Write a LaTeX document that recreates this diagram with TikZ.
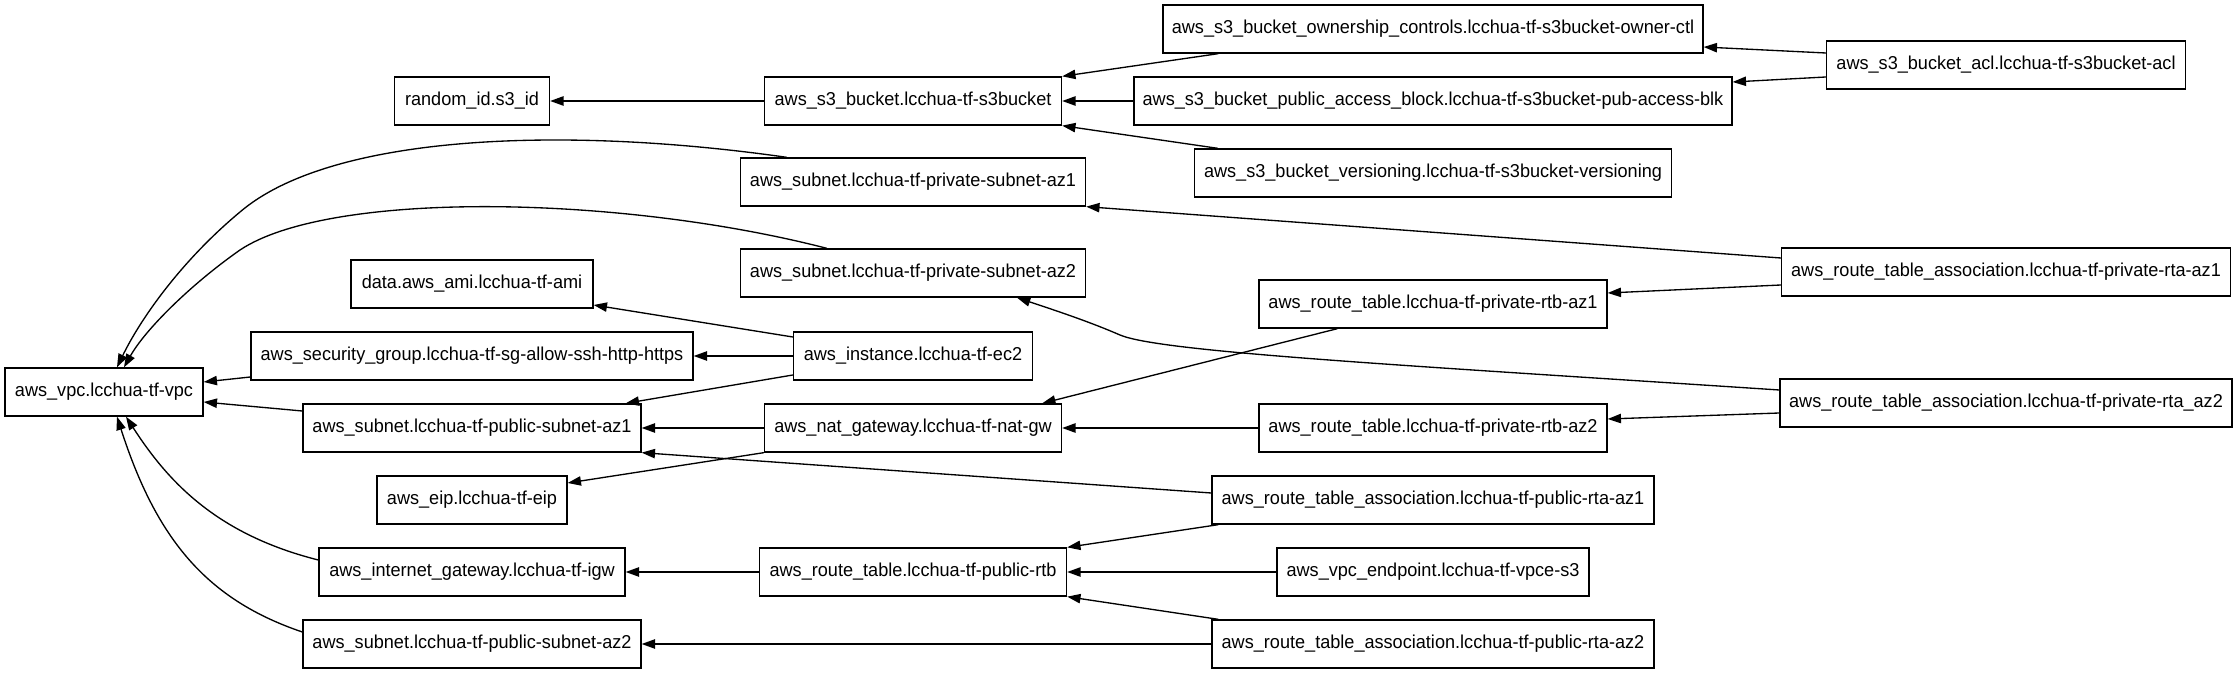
\documentclass[tikz,border=0pt]{standalone}
\usepackage{fontspec}
\setmainfont{Liberation Sans}[FakeStretch=0.97]
\usetikzlibrary{arrows.meta,calc}
\tikzset{
  box/.style={draw, line width=1pt, minimum height=36pt, inner sep=0pt,
    font=\fontsize{14}{16}\selectfont},
  bw/.style={minimum width=#1*0.75pt},
  dep/.style={line width=1pt, -{Triangle[length=10pt,width=7pt]}},
}
\begin{document}
\begin{tikzpicture}[x=0.75pt,y=-0.75pt]
\useasboundingbox (0,0) rectangle (2238,673);
% column 1
\node[box,bw=198] (vpc) at (104,392) {aws\_vpc.lcchua-tf-vpc};
% column 2
\node[box,bw=155] (rid) at (472,101) {random\_id.s3\_id};
\node[box,bw=242] (ami) at (472,284) {data.aws\_ami.lcchua-tf-ami};
\node[box,bw=442] (sg) at (472,356) {aws\_security\_group.lcchua-tf-sg-allow-ssh-http-https};
\node[box,bw=338] (pubaz1) at (472,428) {aws\_subnet.lcchua-tf-public-subnet-az1};
\node[box,bw=190] (eip) at (472,500) {aws\_eip.lcchua-tf-eip};
\node[box,bw=306] (igw) at (472,572) {aws\_internet\_gateway.lcchua-tf-igw};
\node[box,bw=338] (pubaz2) at (472,644) {aws\_subnet.lcchua-tf-public-subnet-az2};
% column 3
\node[box,bw=297] (s3) at (913,101) {aws\_s3\_bucket.lcchua-tf-s3bucket};
\node[box,bw=345] (privaz1) at (913,182) {aws\_subnet.lcchua-tf-private-subnet-az1};
\node[box,bw=345] (privaz2) at (913,273) {aws\_subnet.lcchua-tf-private-subnet-az2};
\node[box,bw=239] (ec2) at (913,356) {aws\_instance.lcchua-tf-ec2};
\node[box,bw=297] (nat) at (913,428) {aws\_nat\_gateway.lcchua-tf-nat-gw};
\node[box,bw=307] (pubrtb) at (913,572) {aws\_route\_table.lcchua-tf-public-rtb};
% column 4
\node[box,bw=540] (own) at (1433,29) {aws\_s3\_bucket\_ownership\_controls.lcchua-tf-s3bucket-owner-ctl};
\node[box,bw=598] (pab) at (1433,101) {aws\_s3\_bucket\_public\_access\_block.lcchua-tf-s3bucket-pub-access-blk};
\node[box,bw=477] (ver) at (1433,173) {aws\_s3\_bucket\_versioning.lcchua-tf-s3bucket-versioning};
\node[box,bw=348] (rtbaz1) at (1433,304) {aws\_route\_table.lcchua-tf-private-rtb-az1};
\node[box,bw=348] (rtbaz2) at (1433,428) {aws\_route\_table.lcchua-tf-private-rtb-az2};
\node[box,bw=442] (prta1) at (1433,500) {aws\_route\_table\_association.lcchua-tf-public-rta-az1};
\node[box,bw=312] (vpce) at (1433,572) {aws\_vpc\_endpoint.lcchua-tf-vpce-s3};
\node[box,bw=442] (prta2) at (1433,644) {aws\_route\_table\_association.lcchua-tf-public-rta-az2};
% column 5
\node[box,bw=359] (acl) at (2006,65) {aws\_s3\_bucket\_acl.lcchua-tf-s3bucket-acl};
\node[box,bw=449] (rta1) at (2006,272) {aws\_route\_table\_association.lcchua-tf-private-rta-az1};
\node[box,bw=452] (rta2) at (2006,403) {aws\_route\_table\_association.lcchua-tf-private-rta\_az2};

% edges
\draw[dep] (s3.west) -- (rid.east);
\draw[dep] ([shift={(56,0)}]own.south west) -- (s3.north east);
\draw[dep] (pab.west) -- (s3.east);
\draw[dep] ([shift={(24,0)}]ver.north west) -- (s3.south east);
\draw[dep] ([shift={(0,-12)}]acl.west) -- ([shift={(0,18)}]own.east);
\draw[dep] ([shift={(0,12)}]acl.west) -- ([shift={(0,-19)}]pab.east);

\draw[dep] ([shift={(47,0)}]privaz1.north west) .. controls (560,125) and (330,135) .. (240,212)
  .. controls (180,262) and (140,320) .. ([shift={(13,0)}]vpc.north);
\draw[dep] ([shift={(87,0)}]privaz2.north west) .. controls (620,195) and (330,190) .. (240,250)
  .. controls (190,285) and (145,330) .. ([shift={(20,0)}]vpc.north);

\draw[dep] ([shift={(0,-14)}]rta1.west) -- (privaz1.south east);
\draw[dep] ([shift={(0,13)}]rta1.west) -- ([shift={(0,-11)}]rtbaz1.east);
\draw[dep] ([shift={(79,0)}]rtbaz1.south west) -- ([shift={(-20,0)}]nat.north east);

\draw[dep] ([shift={(0,-13)}]rta2.west) .. controls (1400,365) and (1160,352) .. (1120,335)
  .. controls (1090,322) and (1060,312) .. ([shift={(104,0)}]privaz2.south);
\draw[dep] ([shift={(0,10)}]rta2.west) -- ([shift={(0,-9)}]rtbaz2.east);
\draw[dep] (rtbaz2.west) -- (nat.east);

\draw[dep] ([shift={(0,-19)}]ec2.west) -- ([shift={(0,21)}]ami.east);
\draw[dep] (ec2.west) -- (sg.east);
\draw[dep] ([shift={(0,19)}]ec2.west) -- ([shift={(-16,0)}]pubaz1.north east);

\draw[dep] ([shift={(0,21)}]sg.west) -- ([shift={(0,-10)}]vpc.east);
\draw[dep] ([shift={(0,-17)}]pubaz1.west) -- ([shift={(0,10)}]vpc.east);

\draw[dep] (nat.west) -- (pubaz1.east);
\draw[dep] (nat.south west) -- ([shift={(0,-17)}]eip.east);

\draw[dep] ([shift={(0,-7)}]prta1.west) -- (pubaz1.south east);
\draw[dep] ([shift={(7,0)}]prta1.south west) -- (pubrtb.north east);
\draw[dep] (vpce.west) -- (pubrtb.east);
\draw[dep] ([shift={(7,0)}]prta2.north west) -- (pubrtb.south east);
\draw[dep] (prta2.west) -- (pubaz2.east);
\draw[dep] (pubrtb.west) -- (igw.east);

\draw[dep] ([shift={(0,-12)}]igw.west) .. controls (215,534) and (167,480) .. ([shift={(22,0)}]vpc.south);
\draw[dep] ([shift={(0,-12)}]pubaz2.west) .. controls (208,600) and (157,541) .. ([shift={(13,0)}]vpc.south);
\end{tikzpicture}
\end{document}
